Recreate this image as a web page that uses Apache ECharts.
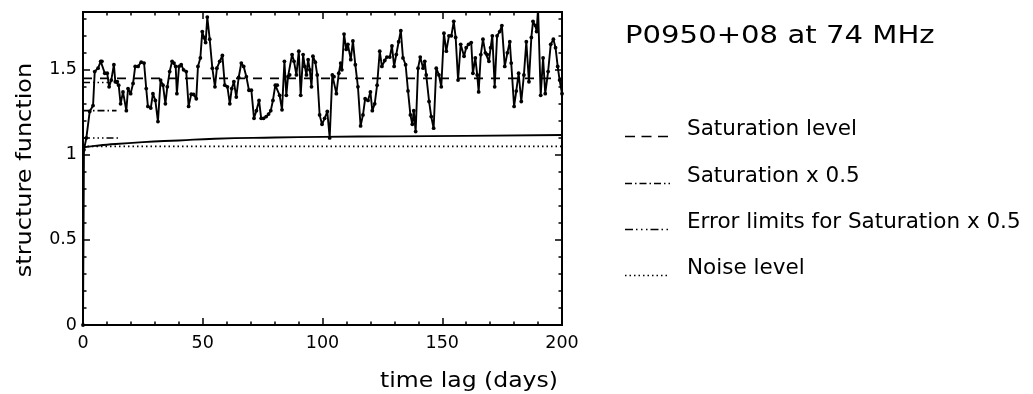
<!DOCTYPE html>
<html><head><meta charset="utf-8">
<script src="https://cdn.jsdelivr.net/npm/echarts@6/dist/echarts.min.js"></script>
<style>html,body{margin:0;padding:0;background:#fff}#c{width:1033px;height:394px}</style>
</head><body><div id="c"></div>
<script>
// ---- data ----
const dataDays = [0,0.4,1.4,2.8,4.2,4.9,6.3,7.4,7.9,9.1,10.1,10.9,11.8,12.9,13.5,14.3,14.9,15.7,16.7,18.1,18.8,19.9,20.9,21.8,23.0,24.3,25.5,26.4,27.1,28.3,29.2,30.2,31.3,32.4,33.4,34.4,35.2,36.2,37.2,38.0,38.7,39.2,40.1,41.0,42.0,43.1,44.1,45.2,46.2,47.3,48.0,49.0,49.8,50.5,51.2,51.9,52.9,54.0,55.1,55.9,57.1,58.2,59.2,60.3,61.3,62.1,63.0,64.0,65.0,66.1,67.1,68.2,69.3,70.3,71.4,72.4,73.5,74.4,75.4,76.5,77.5,78.4,79.3,80.3,81.1,82.1,83.1,84.1,84.9,85.6,86.3,87.3,88.1,89.1,90.1,90.9,91.9,92.6,93.3,94.0,94.7,95.4,96.0,97.0,97.8,98.8,99.8,100.9,102.0,103.0,104.1,104.8,105.8,106.8,107.6,108.1,109.0,109.9,110.6,111.8,112.7,113.7,114.8,115.9,116.9,117.8,119.0,120.0,120.8,121.8,122.8,123.9,124.8,126.0,126.9,128.1,129.0,129.9,130.8,131.8,132.7,133.6,134.7,135.7,136.7,137.5,138.1,138.9,139.9,140.8,142.0,142.7,143.3,144.5,145.4,146.4,147.5,148.6,149.6,150.7,151.7,152.8,153.8,154.8,155.6,156.6,157.7,159.1,160.0,161.0,162.1,162.8,163.8,164.6,165.2,166.1,167.0,168.0,168.8,169.5,170.2,170.9,171.9,172.9,174.0,174.9,176.1,177.2,178.2,178.8,180.0,180.9,181.9,183.0,184.1,185.1,186.2,187.2,187.9,188.9,189.4,190.0,191.1,192.1,193.0,194.2,195.3,196.4,197.3,198.2,199.0,200.0];
const dataValues = [0,1.03,1.10,1.255,1.29,1.49,1.51,1.55,1.55,1.48,1.48,1.40,1.44,1.53,1.43,1.43,1.41,1.30,1.37,1.26,1.39,1.36,1.42,1.52,1.52,1.545,1.54,1.39,1.285,1.275,1.36,1.32,1.196,1.44,1.41,1.30,1.40,1.49,1.55,1.54,1.52,1.36,1.52,1.53,1.50,1.49,1.285,1.357,1.355,1.33,1.52,1.57,1.725,1.69,1.66,1.81,1.68,1.51,1.40,1.51,1.55,1.585,1.41,1.40,1.30,1.39,1.43,1.34,1.455,1.54,1.52,1.46,1.38,1.38,1.215,1.26,1.32,1.215,1.215,1.225,1.24,1.26,1.32,1.41,1.41,1.35,1.265,1.55,1.35,1.46,1.47,1.59,1.55,1.47,1.61,1.35,1.59,1.52,1.47,1.56,1.50,1.40,1.58,1.545,1.47,1.235,1.18,1.215,1.255,1.10,1.47,1.46,1.36,1.48,1.54,1.50,1.71,1.62,1.65,1.56,1.67,1.53,1.40,1.17,1.235,1.33,1.32,1.37,1.26,1.30,1.41,1.61,1.52,1.555,1.575,1.575,1.64,1.52,1.59,1.665,1.73,1.57,1.53,1.376,1.235,1.18,1.26,1.137,1.51,1.575,1.51,1.55,1.47,1.314,1.225,1.157,1.51,1.47,1.40,1.715,1.61,1.70,1.70,1.785,1.69,1.44,1.65,1.58,1.63,1.65,1.66,1.48,1.57,1.47,1.37,1.59,1.68,1.60,1.59,1.55,1.63,1.70,1.40,1.70,1.725,1.76,1.52,1.60,1.665,1.54,1.285,1.375,1.48,1.314,1.47,1.665,1.43,1.69,1.785,1.76,1.725,1.86,1.35,1.57,1.36,1.49,1.65,1.68,1.63,1.52,1.44,1.36];
const modelDays = [0,5,10,25,40,55,80,100,130,160,200];
const modelValues = [1.045,1.053,1.06,1.075,1.085,1.095,1.102,1.106,1.109,1.112,1.117];
const saturationLevel = 1.45;
const halfSaturationLevel = 1.26;
const halfSaturationDays = [0, 14];
const errorUpperLevel = 1.425;
const errorUpperDays = [0, 11];
const errorLowerLevel = 1.10;
const errorLowerDays = [0, 15];
const noiseLevel = 1.05;
const noiseDays = [0, 200];
const titleText = 'P0950+08 at 74 MHz';
const legendLabels = ['Saturation level', 'Saturation x 0.5', 'Error limits for Saturation x 0.5', 'Noise level'];
const xAxisTitle = 'time lag (days)';
const yAxisTitle = 'structure function';

// ---- styles ----
const FONT = 'DejaVu Sans';
const dashSat = [9, 8];
const dashHalf = [7, 3, 1.5, 3];
const dashErr = [7, 3, 1.5, 3, 1.5, 3, 1.5, 3];
const dashNoise = [1.5, 3];

const chart = echarts.init(document.getElementById('c'), null, {renderer: 'canvas'});

function xAx(pos, major, labels) {
  return {type: 'value', min: 0, max: 200, interval: major ? 50 : 10, position: pos,
    axisLine: {show: false, onZero: false}, splitLine: {show: false},
    axisTick: {show: true, inside: true, length: major ? 7 : 3.5, lineStyle: {color: '#000', width: 1.5}},
    axisLabel: {show: labels, color: '#000', fontSize: 17.5, fontFamily: FONT, margin: 9}};
}
function yAx(pos, major, labels) {
  return {type: 'value', min: 0, max: 1.84, interval: major ? 0.5 : 0.1, position: pos,
    axisLine: {show: false, onZero: false}, splitLine: {show: false},
    axisTick: {show: true, inside: true, length: major ? 7 : 3.5, lineStyle: {color: '#000', width: 1.5}},
    axisLabel: {show: labels, showMaxLabel: false, color: '#000', fontSize: 17.5, fontFamily: FONT, margin: 6,
      formatter: v => (Math.abs(v * 2 - Math.round(v * 2)) < 1e-6 ? String(Math.round(v * 10) / 10) : '')}};
}
function hLine(days, level, dash, width) {
  return {type: 'line', data: days.map(d => [d, level]), showSymbol: false, symbol: 'none',
    lineStyle: {color: '#000', width: width || 1.5, type: dash}, z: 2, silent: true};
}
function sample(x1, x2, y, dash) {
  return {type: 'line', shape: {x1: x1, y1: y, x2: x2, y2: y}, style: {stroke: '#000', lineWidth: 1.5, lineDash: dash}};
}
function txt(text, x, y, size, scaleX, align, rot) {
  return {type: 'text', x: x, y: y, rotation: rot || 0, scaleX: scaleX || 1,
    style: {text: text, x: 0, y: 0, fill: '#000', font: size + 'px "' + FONT + '"', textAlign: align || 'left', textVerticalAlign: 'middle'}};
}

const legendRows = [129, 176, 222, 268];
const legendDashes = [[10, 6.5], [7, 3, 1.5, 3], [8, 3, 1.5, 3.5, 1.5, 3.5, 1.5, 3], [1.5, 3]];

chart.setOption({
  animation: false,
  backgroundColor: '#fff',
  grid: {left: 83, right: 471, top: 12, bottom: 69, show: true, borderColor: '#000', borderWidth: 2, backgroundColor: 'transparent'},
  xAxis: [xAx('bottom', true, true), xAx('top', true, false), xAx('bottom', false, false), xAx('top', false, false)],
  yAxis: [yAx('left', true, true), yAx('right', true, false), yAx('left', false, false), yAx('right', false, false)],
  series: [
    hLine(noiseDays, noiseLevel, dashNoise, 1.6),
    hLine([0, 200], saturationLevel, dashSat, 1.6),
    hLine(halfSaturationDays, halfSaturationLevel, dashHalf, 1.6),
    hLine(errorUpperDays, errorUpperLevel, dashErr, 1.5),
    hLine(errorLowerDays, errorLowerLevel, dashErr, 1.5),
    {type: 'line', data: modelDays.map((d, i) => [d, modelValues[i]]), smooth: true, showSymbol: false, symbol: 'none',
      lineStyle: {color: '#000', width: 1.9}, z: 3},
    {type: 'line', data: dataDays.map((d, i) => [d, dataValues[i]]), symbol: 'circle', symbolSize: 3.8, showSymbol: true,
      itemStyle: {color: '#000'}, lineStyle: {color: '#000', width: 1.9}, z: 5}
  ],
  graphic: [
    txt(titleText, 625, 36, 25, 1.165, 'left'),
    txt(yAxisTitle, 25, 170, 22, 1.09, 'center', Math.PI / 2),
    txt(xAxisTitle, 469, 381, 22, 1.07, 'center'),
    ...legendLabels.map((t, i) => txt(t, 687, legendRows[i], 21.5, 1, 'left')),
    ...legendDashes.map((d, i) => sample(625, 670, legendRows[i] + 7.5, d))
  ]
});
</script></body></html>
